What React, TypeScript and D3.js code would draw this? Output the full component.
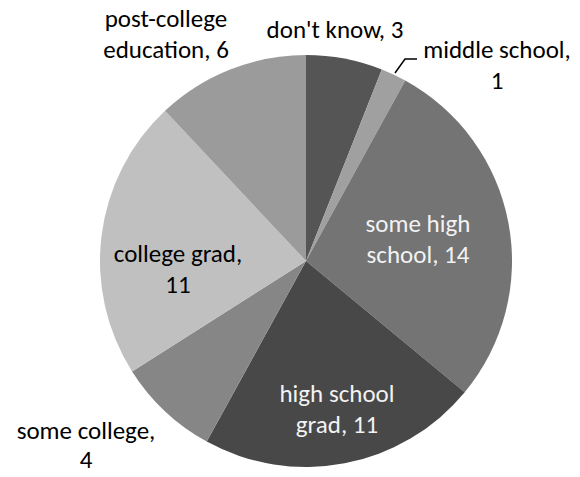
import React from "react";
import * as d3 from "d3";

const categories = ["don't know", "middle school", "some high school", "high school grad", "some college", "college grad", "post-college education"];
const values = [3, 1, 14, 11, 4, 11, 6];
const colors = ["#555555", "#a0a0a0", "#747474", "#484848", "#868686", "#c0c0c0", "#9b9b9b"];
const labelLines = [
  ["don't know, 3"],
  ["middle school,", "1"],
  ["some high", "school, 14"],
  ["high school", "grad, 11"],
  ["some college,", "4"],
  ["college grad,", "11"],
  ["post-college", "education, 6"],
];
const labelColors = ["#000", "#000", "#f2f2f2", "#f2f2f2", "#000", "#000", "#000"];
// label anchor positions (centre x, first baseline y)
const labelPos: [number, number][] = [
  [335, 38],
  [497, 58],
  [418, 232],
  [337, 402],
  [86, 439],
  [178, 262],
  [166, 27],
];

export default function App() {
  const W = 580, H = 477;
  const cx = 306, cy = 261, r = 206;
  const pie = d3.pie<number>().sort(null).value((d) => d);
  const arcs = pie(values);
  const arc = d3.arc<d3.PieArcDatum<number>>().innerRadius(0).outerRadius(r);
  const lineH = 31;
  return (
    <svg width={W} height={H} style={{ position: "absolute", left: 0, top: 0 }}>
      <rect width={W} height={H} fill="#fff" />
      <g transform={`translate(${cx},${cy})`}>
        {arcs.map((a, i) => (
          <path key={categories[i]} d={arc(a) || ""} fill={colors[i]} />
        ))}
      </g>
      <polyline points="395,73 405,59 417,59" fill="none" stroke="#000" strokeWidth={1.5} />
      {labelLines.map((lines, i) => (
        <text key={i} textAnchor="middle" fontFamily="Carlito, Calibri, Lato, sans-serif" fontSize={25} fill={labelColors[i]}>
          {lines.map((t, j) => (
            <tspan key={j} x={labelPos[i][0]} y={labelPos[i][1] + j * (i === 4 ? 29 : lineH)}>{t}</tspan>
          ))}
        </text>
      ))}
    </svg>
  );
}
